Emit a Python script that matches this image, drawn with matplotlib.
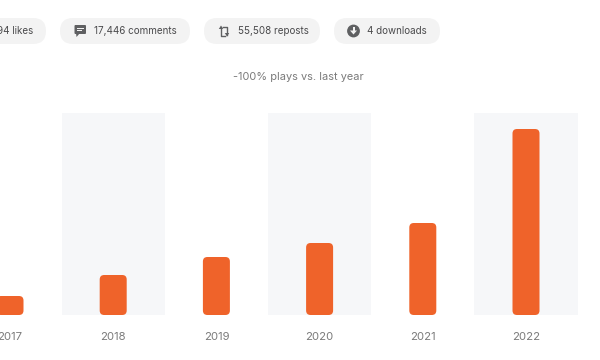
import matplotlib
matplotlib.use("Agg")
import matplotlib.pyplot as plt
from matplotlib.patches import FancyBboxPatch, Polygon, Circle, Rectangle

years = ["2017", "2018", "2019", "2020", "2021", "2022"]
plays = [19, 40, 58, 72, 92, 186]
shaded = [1, 3, 5]
band_top = 202
stats = ["94 likes", "17,446 comments", "55,508 reposts", "4 downloads"]
subtitle = "-100% plays vs. last year"

plt.rcParams["font.family"] = ["Inter", "DejaVu Sans"]

W, H = 600, 360
step = 103.2
fig = plt.figure(figsize=(W / 100, H / 100), dpi=100, facecolor="white")

# chart axes, one y unit is one pixel
ax = fig.add_axes([0, 45 / H, 1, band_top / H])
ax.set_xlim(-10 / step, (W - 10) / step)
ax.set_ylim(0, band_top)
ax.patch.set_visible(False)
for s in ax.spines.values():
    s.set_visible(False)

xs = list(range(len(years)))
ax.bar(shaded, [band_top] * len(shaded), width=1.0, color="#f6f7f9", zorder=1)

bars = ax.bar(xs, plays, width=27 / step, color="#ef632a", zorder=2)
for b in bars:
    x, y, w, h = b.get_x(), b.get_y(), b.get_width(), b.get_height()
    r = 4.5
    ax.add_patch(FancyBboxPatch((x + r / step, y + r), w - 2 * r / step, h - 2 * r,
                                boxstyle="round,pad=%f,rounding_size=%f" % (r / step, r / step),
                                mutation_aspect=step, fc="#ef632a", ec="none", zorder=3))
    b.set_visible(False)

ax.set_xticks(xs)
ax.set_xticklabels(years, fontsize=8.2, color="#7b7b7b")
ax.set_yticks([])
ax.tick_params(axis="x", length=0, pad=12)

# overlay in pixels for the stat pills on top
top = fig.add_axes([0, 0, 1, 1])
top.set_xlim(0, W)
top.set_ylim(H, 0)
top.axis("off")
top.patch.set_visible(False)

pill_spans = [(-60, 46), (60, 190), (204, 320), (334, 440)]
text_x = [33, 94, 238, 367]
grey = "#5f6062"
for (x0, x1), label, tx in zip(pill_spans, stats, text_x):
    top.add_patch(FancyBboxPatch((x0 + 13, 18 + 13), x1 - x0 - 26, 0,
                                 boxstyle="round,pad=13,rounding_size=13",
                                 fc="#f3f3f3", ec="none"))
    ha = "right" if label == stats[0] else "left"
    top.text(tx, 31.5, label, fontsize=7.1, color="#4a4a4c", ha=ha, va="center")

# comment icon
top.add_patch(FancyBboxPatch((75, 25.5), 10.5, 8, boxstyle="round,pad=0.5,rounding_size=1", fc=grey, ec="none"))
top.add_patch(Polygon([[76, 33], [80, 33], [76.5, 37]], fc=grey, ec="none"))
top.add_patch(Rectangle((76.5, 27.5), 7.5, 1, fc="#f3f3f3", ec="none"))
top.add_patch(Rectangle((76.5, 30), 5, 1, fc="#f3f3f3", ec="none"))

# repost icon
top.plot([221, 221, 225], [27, 35.5, 35.5], color=grey, lw=1.0)
top.plot([223, 227, 227], [26.5, 26.5, 35], color=grey, lw=1.0)
top.add_patch(Polygon([[218.8, 29], [223.2, 29], [221, 25.5]], fc=grey, ec="none"))
top.add_patch(Polygon([[224.8, 33], [229.2, 33], [227, 36.5]], fc=grey, ec="none"))

# download icon
top.add_patch(Circle((353.5, 31), 6.4, fc=grey, ec="none"))
top.add_patch(Rectangle((352.5, 27), 2, 4, fc="#f3f3f3", ec="none"))
top.add_patch(Polygon([[350, 30.5], [357, 30.5], [353.5, 34.5]], fc="#f3f3f3", ec="none"))

top.text(298, 77, subtitle, fontsize=7.9, color="#7a7a7a", ha="center", va="center")

fig.savefig("out.png", dpi=100)
